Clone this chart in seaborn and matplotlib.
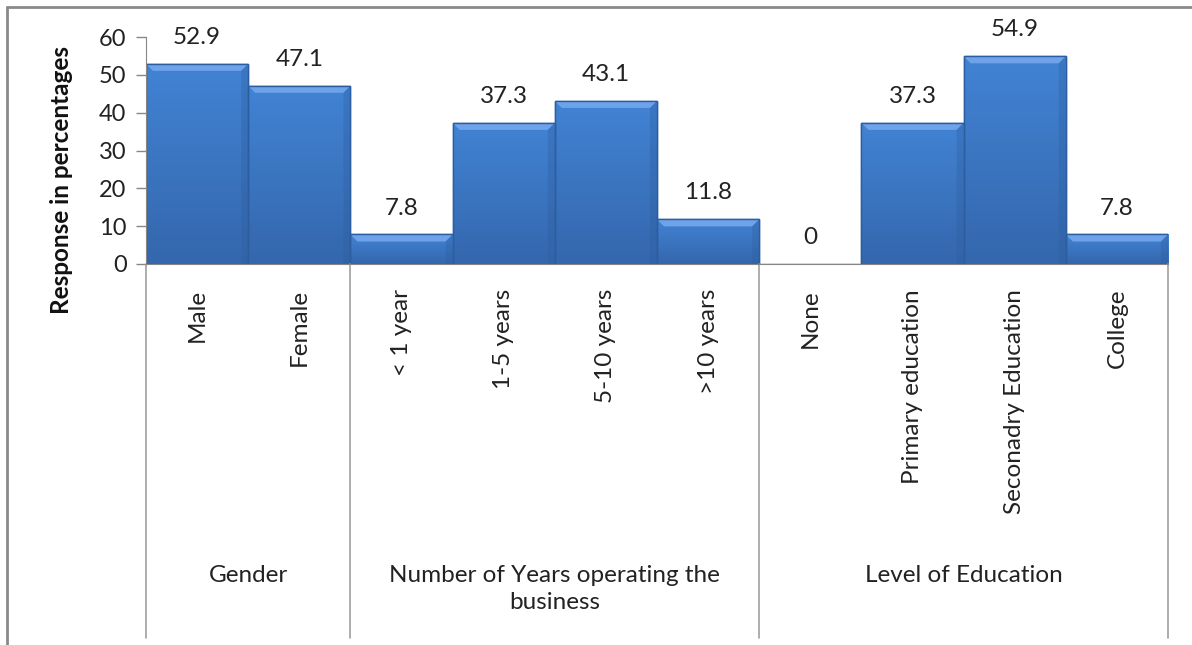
import numpy as np
import pandas as pd
import matplotlib
matplotlib.use("Agg")
import matplotlib.pyplot as plt
import matplotlib.transforms as mtransforms
from matplotlib.patches import Polygon
from matplotlib.lines import Line2D
import seaborn as sns

# data
categories = ["Male", "Female", "< 1 year", "1-5 years", "5-10 years", ">10 years",
              "None", "Primary education", "Seconadry Education", "College"]
values = [52.9, 47.1, 7.8, 37.3, 43.1, 11.8, 0, 37.3, 54.9, 7.8]
value_labels = ["52.9", "47.1", "7.8", "37.3", "43.1", "11.8", "0", "37.3", "54.9", "7.8"]
groups = ["Gender", "Number of Years operating the\nbusiness", "Level of Education"]
group_sizes = [2, 4, 4]

df = pd.DataFrame({"category": categories, "value": values})

sns.set_style("white")
plt.rcParams["font.family"] = ["Lato", "DejaVu Sans"]

fig = plt.figure(figsize=(11.92, 6.45), dpi=100)
ax = fig.add_axes([146 / 1192, 1 - 264 / 645, (1168 - 146) / 1192, (264 - 37) / 645])

sns.barplot(data=df, x="category", y="value", color="#3d7bcb", width=1.0,
            edgecolor="#2c5d9e", linewidth=1.0, saturation=1, ax=ax)

ax.set_ylim(0, 60)
ax.set_xlim(-0.5, len(categories) - 0.5)
ax.set_yticks(range(0, 61, 10))

# bevel look on each bar
grad = np.linspace(0, 1, 100).reshape(-1, 1)
cmap = matplotlib.colors.LinearSegmentedColormap.from_list("b", ["#3467ad", "#4283d4"])
for p in ax.patches:
    h = p.get_height()
    if h <= 0:
        continue
    x0, w = p.get_x(), p.get_width()
    im = ax.imshow(grad, extent=(x0, x0 + w, 0, h), aspect="auto", cmap=cmap,
                   origin="lower", zorder=p.get_zorder() + 0.1)
    im.set_clip_path(p)
    dx = w * 7 / 102
    dy = min(60 * 7 / 227, h / 2)
    top = Polygon([(x0, h), (x0 + w, h), (x0 + w - dx, h - dy), (x0 + dx, h - dy)],
                  closed=True, facecolor="#6ea3ea", edgecolor="none",
                  zorder=p.get_zorder() + 0.2)
    ax.add_patch(top)
    right = Polygon([(x0 + w, h), (x0 + w - dx, h - dy), (x0 + w - dx, 0), (x0 + w, 0)],
                    closed=True, facecolor="#2c5c9c", edgecolor="none", alpha=0.3,
                    zorder=p.get_zorder() + 0.2)
    ax.add_patch(right)
    edge = Polygon([(x0, 0), (x0, h), (x0 + w, h), (x0 + w, 0)], closed=True,
                   facecolor="none", edgecolor="#2c5d9e", linewidth=1.0,
                   zorder=p.get_zorder() + 0.3)
    ax.add_patch(edge)

# value labels
for i, (v, lab) in enumerate(zip(values, value_labels)):
    ax.annotate(lab, (i, v), xytext=(0, 19), textcoords="offset points",
                ha="center", va="center", fontsize=17.5, color="#222222")

# axes styling
for s in ["top", "right"]:
    ax.spines[s].set_visible(False)
ax.spines["left"].set_color("#868686")
ax.spines["bottom"].set_color("#868686")
ax.tick_params(axis="y", length=7, width=1, color="#868686", pad=7,
               labelsize=17, labelcolor="#222222", left=True)
ax.tick_params(axis="x", length=0, pad=18, labelsize=17.5, labelcolor="#222222")
ax.set_xticks(range(len(categories)))
ax.set_xticklabels(categories, rotation=90, va="top", ha="center")
ax.set_xlabel("")
ax.set_ylabel("Response in percentages", fontsize=17.5, fontweight="bold",
              color="#111111")
ax.yaxis.set_label_coords(-(146 - 73) / 1022, (264 - 180) / 227)

# group separators and group labels
trans = mtransforms.blended_transform_factory(ax.transData, ax.transAxes)
bottom = -(638 - 264) / 227
bounds = np.concatenate([[0], np.cumsum(group_sizes)]) - 0.5
for b in bounds:
    ax.add_line(Line2D([b, b], [0, bottom], transform=trans, color="#a0a0a0",
                       linewidth=1.2, clip_on=False))
for g, lo, hi in zip(groups, bounds[:-1], bounds[1:]):
    ax.text((lo + hi) / 2, -(565 - 264) / 227, g, transform=trans, ha="center",
            va="top", fontsize=17.5, color="#222222", linespacing=1.35)

# outer frame of the chart area
fig.add_artist(Line2D([7 / 1192, 1], [1 - 7 / 645, 1 - 7 / 645], transform=fig.transFigure,
                      color="#8a8a8a", linewidth=2))
fig.add_artist(Line2D([7 / 1192, 7 / 1192], [0, 1 - 7 / 645], transform=fig.transFigure,
                      color="#8a8a8a", linewidth=2))

fig.savefig("out.png", dpi=100)
